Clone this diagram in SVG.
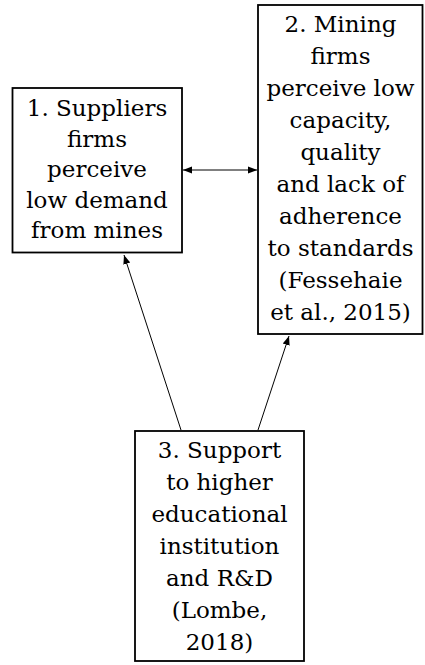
<svg xmlns="http://www.w3.org/2000/svg" width="425" height="665" viewBox="0 0 425 665">
<style>
.box{fill:#fff;stroke:#000;stroke-width:1.8}
.t{font-family:"DejaVu Serif",serif;font-size:23px;text-anchor:middle;fill:#000}
.c{stroke:#000;stroke-width:1;fill:none}
</style>
<defs>
<marker id="ah" viewBox="0 0 10 10" refX="10" refY="5" markerWidth="9" markerHeight="9" markerUnits="userSpaceOnUse" orient="auto-start-reverse">
<path d="M0,1 L10,5 L0,9 Z" fill="#000"/>
</marker>
</defs>
<g id="connectors">
<line class="c" x1="183" y1="170" x2="257" y2="170" marker-start="url(#ah)" marker-end="url(#ah)"/>
<line class="c" x1="181" y1="430" x2="124" y2="255" marker-end="url(#ah)"/>
<line class="c" x1="258" y1="430" x2="289" y2="336" marker-end="url(#ah)"/>
</g>
<g id="node1">
<rect class="box" x="12.5" y="88" width="169.5" height="164.5"/>
<text class="t" x="97" y="116">1. Suppliers</text>
<text class="t" x="97" y="146.5">firms</text>
<text class="t" x="97" y="177">perceive</text>
<text class="t" x="97" y="207.5">low demand</text>
<text class="t" x="97" y="238">from mines</text>
</g>
<g id="node2">
<rect class="box" x="258" y="5" width="164.5" height="329"/>
<text class="t" x="340.5" y="32">2. Mining</text>
<text class="t" x="340.5" y="64">firms</text>
<text class="t" x="340.5" y="96">perceive low</text>
<text class="t" x="340.5" y="128">capacity,</text>
<text class="t" x="340.5" y="160">quality</text>
<text class="t" x="340.5" y="192">and lack of</text>
<text class="t" x="340.5" y="224">adherence</text>
<text class="t" x="340.5" y="256">to standards</text>
<text class="t" x="340.5" y="288">(Fessehaie</text>
<text class="t" x="340.5" y="320">et al., 2015)</text>
</g>
<g id="node3">
<rect class="box" x="135" y="431" width="169" height="230"/>
<text class="t" x="219.5" y="458">3. Support</text>
<text class="t" x="219.5" y="490">to higher</text>
<text class="t" x="219.5" y="522">educational</text>
<text class="t" x="219.5" y="554">institution</text>
<text class="t" x="219.5" y="586">and R&amp;D</text>
<text class="t" x="219.5" y="618">(Lombe,</text>
<text class="t" x="219.5" y="650">2018)</text>
</g>
</svg>
